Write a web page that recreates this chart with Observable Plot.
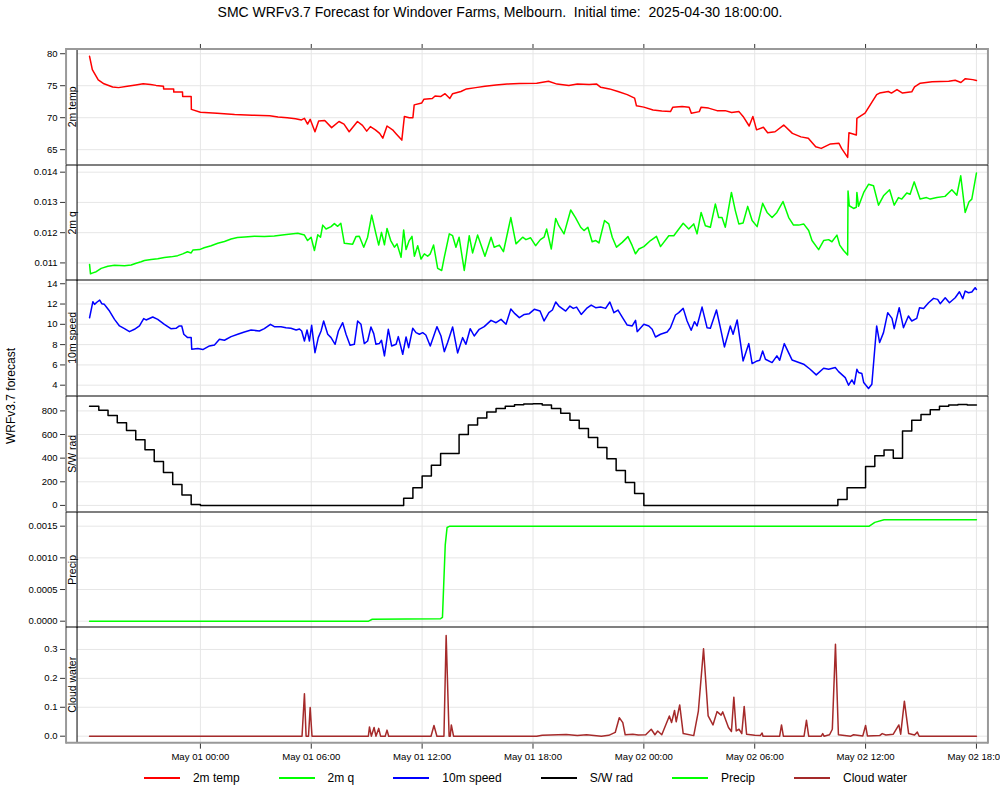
<!DOCTYPE html>
<html><head><meta charset="utf-8">
<script src="https://cdn.jsdelivr.net/npm/d3@7"></script>
<script src="https://cdn.jsdelivr.net/npm/@observablehq/plot@0.6"></script>
<style>
body{margin:0;background:#fff;font-family:"Liberation Sans",Arial,sans-serif;}
#wrap{position:relative;width:1000px;height:800px;overflow:hidden;background:#fff;}
.panel{position:absolute;left:0;}
#title{position:absolute;top:4px;left:0;width:1000px;text-align:center;font-size:14px;white-space:pre;color:#000;}
#ylab{position:absolute;left:11px;top:396px;transform:translate(-50%,-50%) rotate(-90deg);font-size:12px;white-space:nowrap;}
#legend{position:absolute;top:771px;left:70px;width:911px;display:flex;justify-content:center;align-items:center;font-size:12px;}
.item{display:flex;align-items:center;margin-right:39px;}
.item:last-child{margin-right:0;}
.swatch{display:inline-block;width:36px;height:2px;margin-right:13px;}
</style></head>
<body><div id="wrap"><div id="title"></div><div id="ylab">WRFv3.7 forecast</div><div id="legend"></div></div>
<script>
const titleText = "SMC WRFv3.7 Forecast for Windover Farms, Melbourn.  Initial time:  2025-04-30 18:00:00.";
const seriesNames = ["2m temp","2m q","10m speed","S/W rad","Precip","Cloud water"];
const seriesColors = ["#ff0000","#00ff00","#0000ff","#000000","#00ff00","#a52a2a"];
const xTickHours = [6,12,18,24,30,36,42,48];

// [hours since 2025-04-30 18:00 UTC, value]
const temp2m = [[0,79.6],[0.15,77.5],[0.47,75.9],[0.78,75.3],[1.25,74.8],[1.57,74.7],[2.04,74.9],[2.5,75.1],[2.9,75.3],[3.3,75.2],[3.6,75.05],[4.0,74.9],[4.01,74.5],[4.55,74.5],[4.56,74.0],[5.03,74.0],[5.04,73.3],[5.5,73.3],[5.51,71.3],[6.0,70.85],[6.9,70.7],[7.85,70.5],[8.8,70.4],[9.75,70.3],[10.2,70.1],[10.7,70.0],[11.15,69.85],[11.47,69.65],[11.63,69.9],[11.8,69.0],[11.94,69.75],[12.2,67.8],[12.4,69.5],[12.73,69.55],[13.1,68.45],[13.5,69.4],[13.77,69.0],[14.05,67.8],[14.5,69.4],[14.77,68.8],[15.0,67.9],[15.2,68.6],[15.47,68.1],[15.7,67.55],[15.87,66.8],[16.1,68.7],[16.4,68.1],[16.6,67.45],[16.9,66.5],[17.04,70.2],[17.3,70.0],[17.5,70.0],[17.57,72.0],[17.98,72.3],[18.1,72.9],[18.55,73.0],[18.7,73.4],[19.0,73.3],[19.24,73.75],[19.5,73.0],[19.65,73.75],[20.1,74.1],[20.4,74.5],[20.9,74.7],[21.4,74.9],[22.0,75.1],[22.6,75.25],[23.26,75.35],[24.2,75.4],[24.84,75.7],[25.3,75.25],[25.94,75.05],[26.4,75.25],[27.04,75.2],[27.45,75.25],[27.67,74.75],[28.14,74.5],[28.6,74.1],[29.1,73.6],[29.5,73.05],[29.6,71.85],[30.0,71.65],[30.5,71.2],[30.97,71.05],[31.44,70.95],[31.57,71.65],[32.07,71.75],[32.45,71.65],[32.57,70.7],[33.0,70.95],[33.1,71.65],[33.5,71.5],[33.96,71.1],[34.4,71.1],[34.75,70.8],[35.15,70.95],[35.37,70.2],[35.7,68.7],[35.9,70.2],[36.1,68.1],[36.47,68.5],[36.7,67.65],[37.1,67.8],[37.57,68.85],[38.04,67.55],[38.5,67.0],[38.9,66.8],[39.3,65.45],[39.6,65.2],[40.1,65.9],[40.56,66.0],[40.7,65.2],[41.03,63.8],[41.1,67.65],[41.5,67.3],[41.53,69.9],[41.97,70.7],[42.6,73.6],[42.76,73.85],[43.23,74.1],[43.4,73.85],[43.7,74.4],[44.0,73.85],[44.5,74.05],[44.65,74.8],[44.96,75.4],[45.6,75.6],[46.5,75.7],[46.85,75.85],[47.16,75.5],[47.4,76.1],[47.8,75.95],[48.0,75.8]];

const q2m = [[0,0.01095],[0.05,0.01064],[0.18,0.01067],[0.36,0.01071],[0.63,0.01082],[0.99,0.01089],[1.35,0.01092],[1.89,0.01091],[2.25,0.01093],[2.52,0.01099],[2.79,0.01104],[2.97,0.01108],[3.33,0.01111],[3.69,0.01114],[4.05,0.01118],[4.4,0.0112],[4.77,0.01124],[5.04,0.0113],[5.3,0.01137],[5.5,0.01133],[5.6,0.01143],[5.95,0.01144],[6.2,0.0115],[6.58,0.01157],[6.94,0.01165],[7.3,0.01171],[7.66,0.01179],[8.0,0.01184],[8.4,0.01186],[8.92,0.01188],[9.46,0.01187],[10.0,0.01189],[10.54,0.01193],[10.9,0.01196],[11.27,0.01198],[11.63,0.01192],[11.8,0.01174],[11.99,0.01185],[12.17,0.01141],[12.35,0.01193],[12.5,0.01185],[12.62,0.01225],[12.8,0.01212],[13.07,0.0122],[13.25,0.0123],[13.43,0.01221],[13.6,0.01231],[13.79,0.01165],[14.24,0.01162],[14.42,0.01187],[14.6,0.01188],[14.84,0.01152],[15.05,0.01185],[15.27,0.01258],[15.5,0.01196],[15.65,0.01159],[15.8,0.01201],[15.96,0.0116],[16.1,0.01214],[16.3,0.01174],[16.5,0.01152],[16.64,0.01163],[16.86,0.01119],[17.0,0.01209],[17.13,0.01144],[17.3,0.01174],[17.45,0.01188],[17.58,0.01122],[17.76,0.01157],[17.94,0.01113],[18.12,0.0113],[18.3,0.01122],[18.44,0.0113],[18.62,0.01159],[18.84,0.01082],[19.06,0.01075],[19.2,0.01119],[19.47,0.01196],[19.65,0.0119],[19.83,0.01152],[20.0,0.01185],[20.28,0.01075],[20.55,0.0119],[20.73,0.01133],[21.0,0.01192],[21.4,0.01122],[21.73,0.01185],[21.9,0.01152],[22.18,0.01159],[22.4,0.01137],[22.8,0.0125],[23.08,0.01163],[23.44,0.01185],[23.62,0.01177],[23.87,0.01183],[24.14,0.01157],[24.4,0.01177],[24.6,0.01185],[24.74,0.01212],[24.99,0.01146],[25.23,0.01247],[25.4,0.01223],[25.68,0.01196],[26.04,0.01275],[26.3,0.0125],[26.58,0.01218],[26.76,0.01207],[26.97,0.01218],[27.2,0.0117],[27.4,0.01174],[27.57,0.01166],[27.87,0.0124],[28.1,0.01229],[28.29,0.01185],[28.52,0.01152],[28.83,0.01168],[29.14,0.01187],[29.37,0.01157],[29.55,0.0113],[29.73,0.01146],[30.0,0.01154],[30.36,0.01174],[30.68,0.01188],[30.9,0.01154],[31.35,0.0119],[31.62,0.0119],[32.13,0.01231],[32.43,0.01212],[32.7,0.01229],[32.88,0.01196],[33.1,0.01267],[33.33,0.01223],[33.6,0.01218],[33.87,0.01295],[34.05,0.0125],[34.23,0.0125],[34.41,0.01218],[34.74,0.01333],[34.95,0.01273],[35.14,0.01229],[35.37,0.01232],[35.62,0.01287],[35.86,0.0124],[36.13,0.0122],[36.43,0.01297],[36.67,0.01267],[36.94,0.0125],[37.2,0.01267],[37.53,0.01303],[37.84,0.0125],[38.1,0.01225],[38.38,0.01225],[38.65,0.01229],[38.92,0.01207],[39.1,0.01174],[39.46,0.01144],[39.73,0.01174],[40.0,0.01177],[40.18,0.0117],[40.45,0.01192],[40.6,0.01159],[40.81,0.01141],[41.03,0.01126],[41.05,0.01338],[41.12,0.01289],[41.35,0.0128],[41.5,0.01284],[41.53,0.01333],[41.62,0.01287],[41.9,0.01333],[42.16,0.0136],[42.43,0.01355],[42.7,0.01291],[42.97,0.01322],[43.3,0.01342],[43.55,0.01291],[43.78,0.01316],[43.96,0.01311],[44.23,0.01331],[44.41,0.01327],[44.63,0.01368],[44.95,0.01311],[45.3,0.01316],[45.5,0.01311],[45.86,0.01316],[46.3,0.0132],[46.67,0.01342],[46.94,0.01324],[47.15,0.01388],[47.39,0.01267],[47.6,0.01302],[47.75,0.01311],[48.0,0.01397]];

const speed10m = [[0,10.65],[0.18,12.23],[0.27,11.97],[0.41,12.2],[0.55,12.39],[0.66,12.03],[0.8,11.97],[0.9,11.74],[1.08,11.31],[1.35,10.49],[1.62,9.84],[1.89,9.57],[2.16,9.28],[2.43,9.51],[2.7,9.84],[2.93,10.56],[3.06,10.43],[3.42,10.72],[3.69,10.49],[4.05,10.0],[4.4,9.57],[4.68,9.61],[4.86,9.84],[4.99,9.84],[5.1,9.02],[5.31,8.69],[5.5,8.69],[5.53,7.54],[5.86,7.61],[6.13,7.51],[6.49,7.87],[6.76,7.97],[7.03,8.52],[7.3,8.43],[7.66,8.79],[8.02,9.02],[8.38,9.25],[8.74,9.44],[9.19,9.34],[9.46,9.57],[9.79,10.0],[10.0,9.77],[10.36,9.77],[10.63,9.67],[10.9,9.61],[11.18,9.44],[11.36,9.54],[11.48,9.34],[11.63,8.36],[11.77,9.44],[11.9,8.36],[12.02,9.9],[12.2,7.21],[12.38,8.69],[12.53,9.34],[12.67,10.33],[12.89,9.02],[13.07,8.69],[13.29,8.03],[13.47,9.34],[13.7,10.16],[13.88,9.02],[14.1,7.93],[14.33,8.03],[14.51,10.33],[14.69,10.0],[14.87,8.1],[15.05,8.36],[15.23,9.74],[15.38,9.08],[15.5,8.03],[15.68,8.1],[15.8,8.43],[15.96,6.89],[16.17,9.51],[16.35,7.87],[16.59,8.03],[16.71,8.79],[16.95,7.05],[17.13,8.75],[17.27,7.7],[17.49,9.61],[17.67,9.18],[17.85,9.02],[18.03,9.18],[18.2,8.95],[18.44,7.87],[18.8,9.77],[19.02,8.85],[19.2,7.31],[19.38,8.2],[19.65,9.74],[19.92,7.18],[20.19,8.69],[20.37,8.03],[20.6,9.57],[20.82,8.85],[21.09,9.51],[21.36,9.77],[21.73,10.39],[22.0,10.16],[22.27,10.49],[22.54,10.0],[22.8,11.51],[23.02,11.05],[23.26,10.66],[23.53,10.98],[23.8,11.05],[24.07,11.48],[24.38,11.31],[24.6,10.33],[24.86,11.15],[25.05,11.41],[25.23,12.2],[25.4,11.8],[25.77,11.31],[26.0,11.8],[26.18,11.57],[26.36,11.7],[26.61,10.98],[26.9,11.57],[27.15,11.9],[27.39,11.64],[27.66,11.7],[27.93,11.57],[28.16,12.2],[28.38,11.15],[28.6,11.41],[28.83,10.72],[29.1,9.93],[29.37,9.84],[29.55,10.39],[29.64,9.28],[30.0,10.0],[30.27,9.84],[30.45,9.51],[30.63,8.75],[30.9,9.02],[31.26,9.25],[31.44,9.67],[31.71,10.92],[31.89,11.15],[32.13,11.57],[32.34,10.33],[32.56,9.41],[32.74,10.26],[32.88,9.84],[33.15,11.7],[33.42,9.67],[33.6,9.61],[33.93,11.41],[34.14,9.67],[34.36,7.77],[34.68,9.84],[34.83,9.02],[35.05,10.43],[35.37,6.39],[35.68,8.1],[35.86,6.13],[36.13,6.39],[36.27,6.46],[36.43,7.38],[36.58,6.56],[36.94,6.23],[37.2,6.89],[37.35,6.46],[37.6,8.1],[38.02,6.49],[38.65,6.07],[39.0,5.57],[39.33,5.02],[39.73,5.67],[40.0,5.57],[40.36,5.74],[40.54,5.34],[40.9,4.75],[41.08,4.0],[41.26,4.52],[41.39,4.1],[41.53,5.57],[41.62,5.25],[41.8,5.15],[41.9,4.26],[42.16,3.67],[42.34,4.1],[42.6,9.84],[42.76,8.2],[42.97,9.18],[43.2,11.15],[43.43,10.59],[43.55,9.57],[43.82,11.64],[44.05,9.67],[44.32,10.82],[44.5,10.33],[44.77,10.59],[44.92,11.64],[45.14,11.57],[45.41,12.13],[45.68,12.56],[45.9,12.46],[46.04,12.03],[46.31,12.62],[46.54,12.13],[46.85,12.62],[47.08,13.21],[47.26,12.52],[47.39,13.28],[47.57,13.11],[47.75,13.18],[47.93,13.61],[48.0,13.44]];

const swRad = [[0,839],[0.5,805],[1,760],[1.5,700],[2,635],[2.5,556],[3,471],[3.5,371],[4,278],[4.5,178],[5,88],[5.5,8],[6,0],[16.5,0],[17,60],[17.5,150],[18,250],[18.5,340],[19,440],[19.5,440],[20,600],[20.5,680],[21,740],[21.5,790],[22,820],[22.5,840],[23,852],[23.5,858],[24,860],[24.5,850],[25,820],[25.5,780],[26,720],[26.5,650],[27,575],[27.5,490],[28,395],[28.5,295],[29,195],[29.5,100],[30,0],[40,0],[40.5,50],[41,150],[41.5,150],[42,330],[42.5,420],[43,470],[43.5,400],[44,630],[44.5,720],[45,770],[45.5,810],[46,840],[46.5,850],[47,855],[47.5,850],[48,850]];

const precip = [[0,0],[15.1,0],[15.3,0.00003],[19.0,0.00004],[19.1,0.00006],[19.25,0.0012],[19.35,0.00148],[19.5,0.0015],[42.2,0.0015],[42.5,0.00156],[43,0.0016],[48,0.0016]];

const cloudWater = [[0,0],[11.5,0],[11.63,0.147],[11.72,0],[11.85,0],[11.94,0.099],[12.04,0],[15.09,0],[15.15,0.032],[15.25,0],[15.4,0.03],[15.5,0],[15.65,0.027],[15.75,0],[16.0,0],[16.1,0.021],[16.19,0],[18.48,0],[18.64,0.037],[18.8,0],[19.18,0],[19.3,0.348],[19.46,0],[19.52,0],[19.58,0.039],[19.7,0],[24.2,0],[24.5,0.003],[25.8,0.006],[26.4,0.002],[26.9,0.005],[27.7,0],[28.1,0.003],[28.45,0.013],[28.67,0.064],[28.86,0.047],[28.99,0.005],[29.4,0.007],[29.7,0.004],[30.1,0.005],[30.4,0.024],[30.6,0.005],[30.75,0.018],[30.97,0.005],[31.38,0.07],[31.5,0.047],[31.66,0.089],[31.75,0.05],[31.94,0.108],[32.13,0.009],[32.7,0.002],[32.95,0.087],[33.23,0.302],[33.48,0.07],[33.74,0.039],[33.96,0.085],[34.18,0.073],[34.27,0.084],[34.58,0.03],[34.74,0.016],[34.87,0.135],[35.0,0.018],[35.15,0.024],[35.3,0.009],[35.43,0.103],[35.56,0.007],[36.0,0.003],[36.3,0.002],[36.4,0.011],[36.45,0],[37.35,0],[37.45,0.039],[37.55,0],[38.67,0],[38.8,0.055],[38.92,0],[39.6,0],[39.68,0.009],[39.75,0],[40.05,0.005],[40.2,0.024],[40.37,0.318],[40.53,0.005],[41.2,0],[41.35,0.005],[41.85,0.001],[42.0,0.037],[42.1,0.001],[42.76,0.002],[42.9,0.009],[43.1,0.004],[43.5,0.007],[43.8,0.039],[43.9,0.007],[44.1,0.121],[44.33,0.009],[44.65,0.004],[44.8,0.014],[44.9,0],[48,0]];

const panelTicks = [[65,70,75,80],[0.011,0.012,0.013,0.014],[4,6,8,10,12,14],[0,200,400,600,800],[0,0.0005,0.001,0.0015],[0,0.1,0.2,0.3]];
const panelFormats = [",.0f",".3f","d","d",".4f",".1f"];

// ---- layout ----
const seriesData = [temp2m,q2m,speed10m,swRad,precip,cloudWater];
const yDomains = [[62.58,80.66],[0.010397,0.014221],[2.92,14.32],[-57,921.7],[-0.00011,0.001716],[-0.0241,0.3759]];
const base = Date.UTC(2025,3,30,18);
const T = h => new Date(base + h*3600000);
const xDomain = [T(-0.65), T(48.65)];
const xTicks = xTickHours.map(T);
const PH = 115.67, TOP = 49, N = 6;
const FONT = "'Liberation Sans', Arial, Helvetica, sans-serif";
const wrap = document.getElementById("wrap");
document.getElementById("title").textContent = titleText;

for (let i = 0; i < N; i++) {
  const mt = i === 0 ? 8 : 0;
  const mb = i === N-1 ? 30 : 0;
  const H = PH + mt + mb;
  const marks = [
    Plot.ruleX(xTicks, {x: d => d, stroke: "#e6e6e6", strokeWidth: 1}),
    Plot.ruleY(panelTicks[i], {y: d => d, x1: () => xDomain[0], x2: () => xDomain[1], stroke: "#e6e6e6", strokeWidth: 1}),
    Plot.line(seriesData[i], {x: d => T(d[0]), y: d => d[1], stroke: seriesColors[i], strokeWidth: 1.5,
      curve: i === 3 ? "step-after" : "linear"}),
    Plot.axisY({ticks: panelTicks[i], tickFormat: d3.format(panelFormats[i]), anchor: "left", tickSize: 6, tickPadding: 3, fontSize: 9.5, stroke: "#333", label: null})
  ];
  const hasX = (i === 0 || i === N-1);
  if (i === 0) marks.push(Plot.axisX({ticks: xTicks, anchor: "top", tickSize: 6, tickFormat: () => "", stroke: "#333", label: null}));
  if (i === N-1) marks.push(Plot.axisX({ticks: xTicks, anchor: "bottom", tickSize: 6, tickPadding: 4, tickFormat: d3.utcFormat("%b %d %H:%M"), fontSize: 9.6, stroke: "#333", label: null}));
  const xOpts = {type: "utc", domain: xDomain, range: [77, 988]};
  if (!hasX) xOpts.axis = null;
  const svg = Plot.plot({
    width: 1000, height: H,
    marginLeft: 66, marginRight: 12, marginTop: mt, marginBottom: mb,
    style: {fontFamily: FONT, background: "transparent", color: "#000", overflow: "visible"},
    x: xOpts,
    y: {domain: yDomains[i], range: [mt + PH, mt]},
    marks
  });
  const div = document.createElement("div");
  div.className = "panel";
  div.style.top = (TOP + i*PH - mt) + "px";
  div.appendChild(svg);
  wrap.appendChild(div);
  const g = d3.select(svg).append("g");
  const y0 = mt, y1 = mt + PH;
  g.append("line").attr("x1",77).attr("x2",77).attr("y1",y0).attr("y2",y1).attr("stroke","#000").attr("stroke-width",1);
  g.append("line").attr("x1",66).attr("x2",66).attr("y1",y0 - (i===0?1:0)).attr("y2",y1 + (i===N-1?1:0)).attr("stroke","#999").attr("stroke-width",2);
  g.append("line").attr("x1",988).attr("x2",988).attr("y1",y0 - (i===0?1:0)).attr("y2",y1 + (i===N-1?1:0)).attr("stroke","#999").attr("stroke-width",2);
  if (i === 0) g.append("line").attr("x1",66).attr("x2",988).attr("y1",y0).attr("y2",y0).attr("stroke","#999").attr("stroke-width",2);
  else g.append("line").attr("x1",66).attr("x2",988).attr("y1",y0).attr("y2",y0).attr("stroke","#000").attr("stroke-width",1.2);
  if (i === N-1) g.append("line").attr("x1",66).attr("x2",988).attr("y1",y1).attr("y2",y1).attr("stroke","#999").attr("stroke-width",2);
  g.append("text").attr("transform", `translate(72,${(y0+y1)/2}) rotate(-90)`)
    .attr("text-anchor","middle").attr("dominant-baseline","central")
    .attr("font-size",10.5).attr("font-family",FONT).attr("fill","#000").text(seriesNames[i]);
}

const legend = document.getElementById("legend");
seriesNames.forEach((n, i) => {
  const it = document.createElement("div"); it.className = "item";
  const sw = document.createElement("span"); sw.className = "swatch"; sw.style.background = seriesColors[i];
  const lb = document.createElement("span"); lb.textContent = n;
  it.appendChild(sw); it.appendChild(lb); legend.appendChild(it);
});
</script></body></html>
